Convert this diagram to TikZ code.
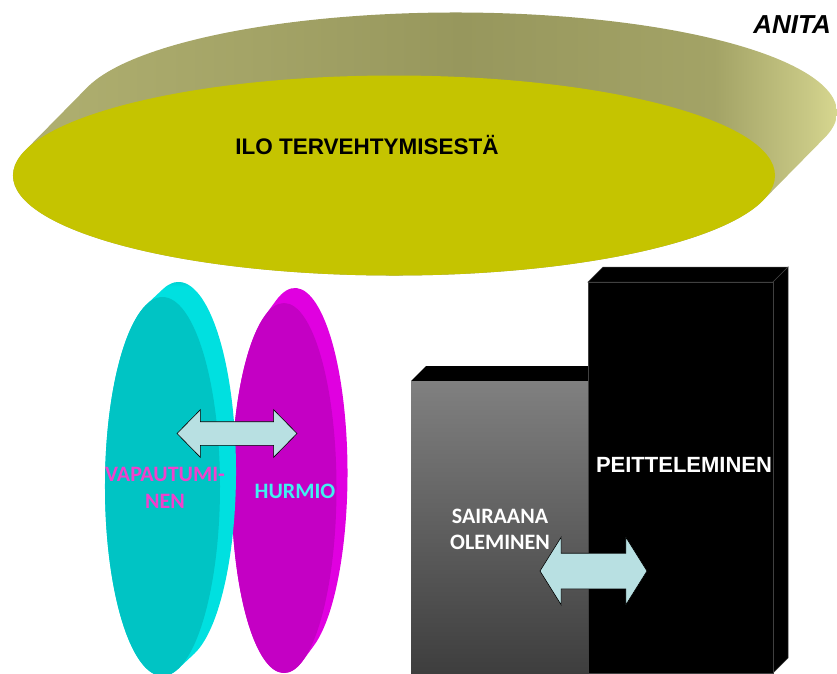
\documentclass[tikz,border=0pt]{standalone}
\usepackage{fontspec}
\setmainfont{Liberation Sans}
\newfontfamily\calibri{Carlito}
\usetikzlibrary{shapes.arrows}

\definecolor{iloface}{RGB}{197,196,0}
\definecolor{sideA}{RGB}{178,178,114}
\definecolor{sideB}{RGB}{163,163,102}
\definecolor{sideC}{RGB}{151,151,93}
\definecolor{sideD}{RGB}{199,199,132}
\definecolor{sideE}{RGB}{230,230,154}
\definecolor{cyanface}{RGB}{0,196,196}
\definecolor{cyanrim}{RGB}{0,224,224}
\definecolor{cyantop}{RGB}{0,165,165}
\definecolor{magface}{RGB}{196,0,196}
\definecolor{magrim}{RGB}{224,0,224}
\definecolor{magtop}{RGB}{165,0,165}
\definecolor{vapaucol}{RGB}{242,64,204}
\definecolor{hurmiocol}{RGB}{64,240,240}
\definecolor{arrowfill}{RGB}{184,224,226}
\definecolor{greytop}{RGB}{128,128,128}
\definecolor{greybot}{RGB}{62,62,62}

% side of the big disc, left to right
\pgfdeclarehorizontalshading{iloside}{100bp}{color(0bp)=(sideA); color(25bp)=(sideA);
  color(41bp)=(sideB); color(52bp)=(sideC); color(66bp)=(sideB); color(71bp)=(sideD);
  color(74.5bp)=(sideE); color(100bp)=(sideE)}
% rims of the two upright discs, bottom to top
\pgfdeclareverticalshading{cyanside}{100bp}{color(0bp)=(cyanrim); color(72bp)=(cyanrim);
  color(74.5bp)=(cyantop); color(100bp)=(cyantop)}
\pgfdeclareverticalshading{magside}{100bp}{color(0bp)=(magrim); color(72bp)=(magrim);
  color(74.5bp)=(magtop); color(100bp)=(magtop)}

% disc with thickness: #1 centre, #2/#3 radii, #4/#5 offset of the back face,
% #6 style of the side, #7 style of the front face
\newcommand{\discslab}[7]{%
  \pgfmathsetmacro{\tang}{atan(-(#3/#2)*(#4/(#5)))}%
  \path[#6] (#1) ++(\tang+180:#2 and #3)
    arc[start angle=\tang+180, end angle=\tang, x radius=#2, y radius=#3]
    -- ++(#4,#5)
    arc[start angle=\tang, end angle=\tang-180, x radius=#2, y radius=#3] -- cycle;
  \path[#7] (#1) ellipse[x radius=#2, y radius=#3];
}

\tikzset{
  bigtext/.style={font=\bfseries\fontsize{22.5}{27}\selectfont, inner sep=0pt},
  softtext/.style={font=\calibri\bfseries\fontsize{22}{26.5}\selectfont, inner sep=0pt, align=center},
  blockarrow/.style={double arrow, draw=black, fill=arrowfill, line width=0.6pt}
}

\begin{document}
\begin{tikzpicture}[x=1pt, y=-1pt]
  \useasboundingbox (0,0) rectangle (837,673);
  \clip (0,0) rectangle (837,673);

  % the flat disc on top
  \discslab{394,175.5}{381}{100}{62}{-63}{shade, shading=iloside}{fill=iloface}
  \node[bigtext, anchor=base] (ilo) at (367,154) {ILO TERVEHTYMISESTÄ};
  \node[font=\bfseries\itshape\fontsize{26}{30}\selectfont, inner sep=0pt, anchor=base east]
    (anita) at (831,33) {ANITA};

  % the two upright discs
  \discslab{284,488}{52.5}{185}{11}{-15}{shade, shading=magside}{fill=magface}
  \discslab{162.5,486.5}{57.5}{189.5}{16}{-15}{shade, shading=cyanside}{fill=cyanface}
  \node[blockarrow, minimum height=120pt, inner xsep=0pt, inner ysep=11.5pt,
    double arrow head extend=12pt, double arrow tip angle=91] (swap) at (237,433.5) {};
  \node[softtext, text=vapaucol] (vapaus) at (165,488) {VAPAUTUMI-\\NEN};
  \node[softtext, text=hurmiocol, anchor=base] (hurmio) at (295,498) {HURMIO};

  % the two blocks
  \fill[black] (411,381) -- (426,366) -- (590,366) -- (590,381) -- cycle;
  \shade[top color=greytop, bottom color=greybot] (411,381) rectangle (589,673);
  \begin{scope}[draw=black!75, line width=0.5pt]
    \filldraw[fill=black] (588,282) -- (603,267) -- (788,267) -- (773,282) -- cycle;
    \filldraw[fill=black] (773,282) -- (788,267) -- (788,658) -- (773,673) -- cycle;
    \filldraw[fill=black] (588,282) rectangle (773,673);
  \end{scope}
  \node[bigtext, font=\bfseries\fontsize{22}{27}\selectfont, text=white, anchor=base]
    (peittely) at (684,472) {PEITTELEMINEN};
  \node[softtext, text=white] (sairaus) at (500,529.5) {SAIRAANA\\OLEMINEN};
  \node[blockarrow, minimum height=107pt, inner xsep=0pt, inner ysep=17.5pt,
    double arrow head extend=16pt, double arrow tip angle=116] (vaihto) at (593.5,571) {};
\end{tikzpicture}
\end{document}
